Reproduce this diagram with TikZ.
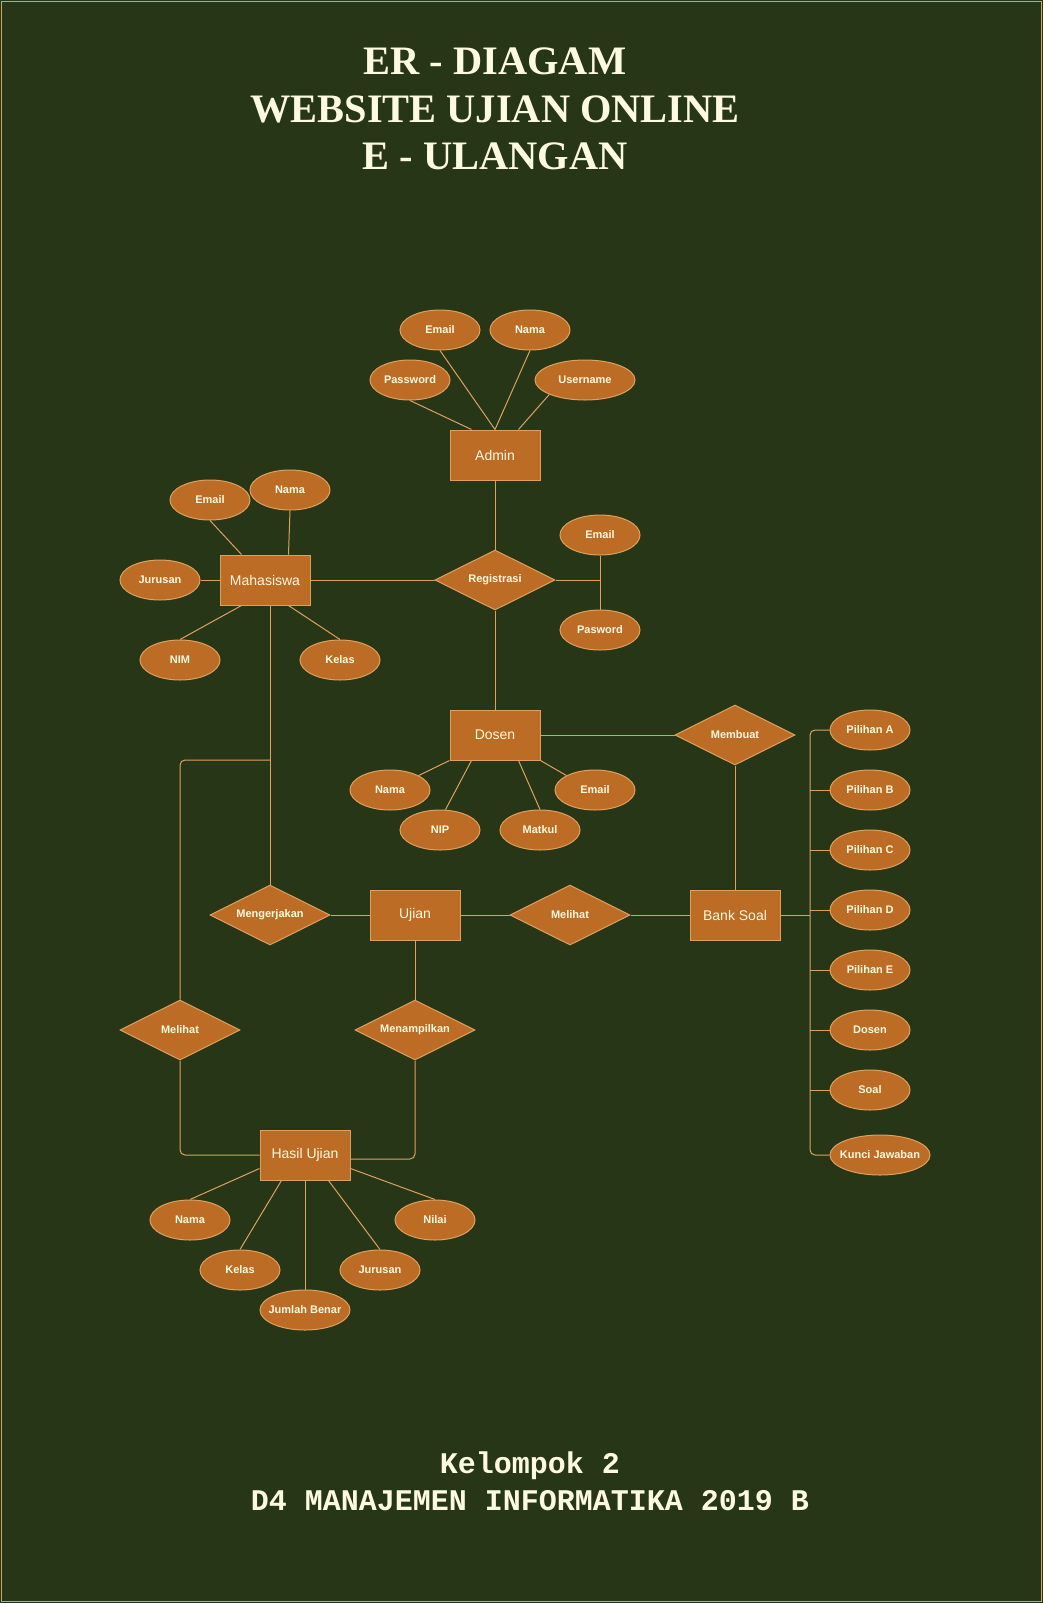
\documentclass[tikz,border=0pt]{standalone}
\usepackage{fontspec}
\setmainfont{Liberation Sans}
\newfontfamily\hurufjudul{Liberation Serif}
\newfontfamily\hurufketik{Liberation Mono}
\usepackage{tikz}
\usetikzlibrary{shapes.geometric,calc}
\definecolor{latar}{HTML}{283618}
\definecolor{isi}{HTML}{BC6C25}
\definecolor{garis}{HTML}{DDA15E}
\definecolor{teks}{HTML}{FEFAE0}
\definecolor{bingkai}{HTML}{C9A55E}
\tikzset{
	entitas/.style={rectangle,draw=garis,fill=isi,text=teks,line width=0.75pt,minimum width=67.5pt,minimum height=37.5pt,inner sep=0pt,font=\fontsize{10.5}{12}\selectfont},
	atribut/.style={ellipse,draw=garis,fill=isi,text=teks,line width=0.75pt,minimum width=60pt,minimum height=30pt,inner sep=0pt,font=\bfseries\fontsize{8.25}{10}\selectfont},
	relasi/.style={diamond,aspect=2,draw=garis,fill=isi,text=teks,line width=0.75pt,minimum width=90pt,minimum height=45pt,inner sep=0pt,font=\bfseries\fontsize{8.25}{10}\selectfont},
	hubung/.style={draw=garis,line width=0.75pt},
	judul/.style={text=teks,align=center,font=\hurufjudul\bfseries\fontsize{30.3}{35.6}\selectfont},
	kaki/.style={text=teks,align=center,font=\hurufketik\bfseries\fontsize{22.5}{27.75}\selectfont}
}
\begin{document}
\begin{tikzpicture}[x=0.75pt,y=-0.75pt]
		\useasboundingbox (0,0) rectangle (1043,1603);
		\fill[latar] (0,0) rectangle (1043,1603);
		\draw[bingkai,line width=1.1pt] (1.5,1.5) rectangle (1041.5,1601.5);
		\node[judul] (judul) at (495,109) {ER - DIAGAM\\WEBSITE UJIAN ONLINE\\E - ULANGAN};
		% admin
		\node[entitas] (admin) at (495,455) {Admin};
		\node[atribut] (aEmail) at (440,330) {Email};
		\node[atribut] (aNama) at (530,330) {Nama};
		\node[atribut] (aPass) at (410,380) {Password};
		\node[atribut,minimum width=75pt] (aUser) at (585,380) {Username};
		\draw[hubung] (aPass.south) -- ($(admin.north west)+(22,0)$);
		\draw[hubung] (aEmail.south) -- (admin.north);
		\draw[hubung] (aNama.south) -- (admin.north);
		\draw[hubung] (aUser.south west) -- ($(admin.north east)+(-22,0)$);
		% registrasi
		\node[relasi] (reg) at (495,580) {Registrasi};
		\node[atribut] (rEmail) at (600,535) {Email};
		\node[atribut] (rPass) at (600,630) {Pasword};
		\coordinate (simpul) at (600,580);
		\draw[hubung] (admin.south) -- (reg.north);
		\draw[hubung] (reg.east) -- (simpul);
		\draw[hubung] (rEmail.south) -- (rPass.north);
		% mahasiswa
		\node[entitas] (mhs) at (265,580) {Mahasiswa};
		\node[atribut] (mEmail) at (210,500) {Email};
		\node[atribut] (mNama) at (290,490) {Nama};
		\node[atribut] (mJurusan) at (160,580) {Jurusan};
		\node[atribut] (mNim) at (180,660) {NIM};
		\node[atribut] (mKelas) at (340,660) {Kelas};
		\draw[hubung] (mEmail.south) -- ($(mhs.north west)+(22,0)$);
		\draw[hubung] (mNama.south) -- ($(mhs.north east)+(-22,0)$);
		\draw[hubung] (mJurusan.east) -- (mhs.west);
		\draw[hubung] (mNim.north) -- ($(mhs.south west)+(22,0)$);
		\draw[hubung] (mKelas.north) -- ($(mhs.south east)+(-22,0)$);
		\draw[hubung] (mhs.east) -- (reg.west);
		% dosen
		\node[entitas] (dosen) at (495,735) {Dosen};
		\node[atribut] (dNama) at (390,790) {Nama};
		\node[atribut] (dNip) at (440,830) {NIP};
		\node[atribut] (dMatkul) at (540,830) {Matkul};
		\node[atribut] (dEmail) at (595,790) {Email};
		\draw[hubung] (reg.south) -- (dosen.north);
		\draw[hubung] (dNama.north east) -- (dosen.south west);
		\draw[hubung] (dNip.75) -- ($(dosen.south west)+(22,0)$);
		\draw[hubung] (dMatkul.north) -- ($(dosen.south east)+(-22,0)$);
		\draw[hubung] (dEmail.north west) -- (dosen.south east);
		% bank soal
		\node[relasi] (buat) at (735,735) {Membuat};
		\node[entitas] (bank) at (735,915) {Bank Soal};
		\draw[hubung] (dosen.east) -- (buat.west);
		\draw[hubung] (buat.south) -- (bank.north);
		\node[atribut] (pilA) at (870,730) {Pilihan A};
		\node[atribut] (pilB) at (870,790) {Pilihan B};
		\node[atribut] (pilC) at (870,850) {Pilihan C};
		\node[atribut] (pilD) at (870,910) {Pilihan D};
		\node[atribut] (pilE) at (870,970) {Pilihan E};
		\node[atribut] (pilDosen) at (870,1030) {Dosen};
		\node[atribut] (pilSoal) at (870,1090) {Soal};
		\node[atribut,minimum width=75pt,inner xsep=-3.5pt] (kunci) at (880,1155) {Kunci Jawaban};
		\coordinate (bus) at (810,915);
		\draw[hubung] (bank.east) -- (bus);
		\draw[hubung,rounded corners=3.75pt] (pilA.west) -| (bus) |- (kunci.west);
		\foreach \n in {pilB,pilC,pilD,pilE,pilDosen,pilSoal}
			\draw[hubung] (\n.west) -- (\n.west -| bus);
		% ujian
		\node[relasi] (kerja) at (270,915) {Mengerjakan};
		\node[entitas] (ujian) at (415,915) {Ujian};
		\node[relasi] (lihatB) at (570,915) {Melihat};
		\node[relasi] (lihatA) at (180,1030) {Melihat};
		\node[relasi] (tampil) at (415,1030) {Menampilkan};
		\coordinate (cabang) at (270,760);
		\draw[hubung] (kerja.north |- mhs.south) -- (kerja.north);
		\draw[hubung,rounded corners=3.75pt] (cabang) -| (lihatA.north);
		\draw[hubung] (kerja.east) -- (ujian.west);
		\draw[hubung] (ujian.east) -- (lihatB.west);
		\draw[hubung] (lihatB.east) -- (bank.west);
		\draw[hubung] (ujian.south) -- (tampil.north);
		% hasil ujian
		\node[entitas] (hasil) at (305,1155) {Hasil Ujian};
		\draw[hubung,rounded corners=3.75pt] (lihatA.south) |- (hasil.west);
		\draw[hubung,rounded corners=3.75pt] (tampil.south) |- ($(hasil.east)+(0,4)$);
		\node[atribut] (hNama) at (190,1220) {Nama};
		\node[atribut] (hKelas) at (240,1270) {Kelas};
		\node[atribut,minimum width=67.5pt,inner xsep=-3.5pt] (hJumlah) at (305,1310) {Jumlah Benar};
		\node[atribut] (hJurusan) at (380,1270) {Jurusan};
		\node[atribut] (hNilai) at (435,1220) {Nilai};
		\draw[hubung] (hNama.north) -- ($(hasil.south west)+(0,-12)$);
		\draw[hubung] (hKelas.north) -- ($(hasil.south west)+(22,0)$);
		\draw[hubung] (hJumlah.north) -- (hasil.south);
		\draw[hubung] (hJurusan.north) -- ($(hasil.south east)+(-22,0)$);
		\draw[hubung] (hNilai.north) -- ($(hasil.south east)+(0,-12)$);
		\node[kaki] (kelompok) at (530,1481) {Kelompok 2\\D4 MANAJEMEN INFORMATIKA 2019 B};
	\end{tikzpicture}
\end{document}
